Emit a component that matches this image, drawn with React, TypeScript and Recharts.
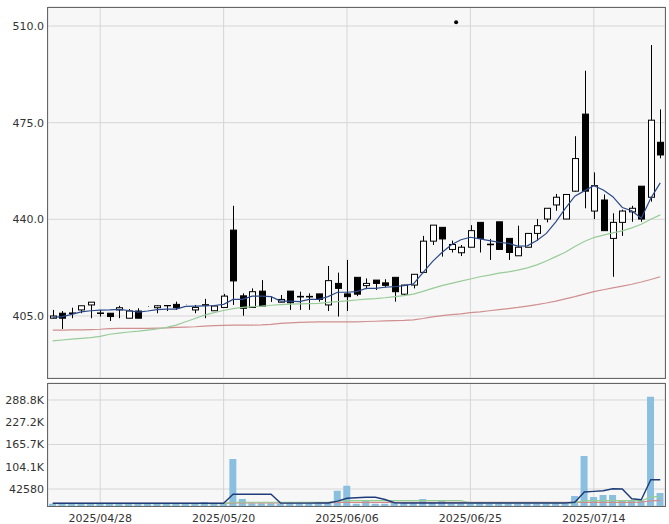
import React from 'react';
import { ComposedChart, Bar, Line, XAxis, YAxis, CartesianGrid, ReferenceDot } from 'recharts';

const dates = [
  '2025/04/21', '2025/04/22', '2025/04/23', '2025/04/24', '2025/04/25', '2025/04/28', '2025/04/30',
  '2025/05/01', '2025/05/02', '2025/05/07', '2025/05/08', '2025/05/09', '2025/05/12', '2025/05/13',
  '2025/05/14', '2025/05/15', '2025/05/16', '2025/05/19', '2025/05/20', '2025/05/21', '2025/05/22',
  '2025/05/23', '2025/05/26', '2025/05/27', '2025/05/28', '2025/05/29', '2025/05/30', '2025/06/02',
  '2025/06/03', '2025/06/04', '2025/06/05', '2025/06/06', '2025/06/09', '2025/06/10', '2025/06/11',
  '2025/06/12', '2025/06/13', '2025/06/16', '2025/06/17', '2025/06/18', '2025/06/19', '2025/06/20',
  '2025/06/23', '2025/06/24', '2025/06/25', '2025/06/26', '2025/06/27', '2025/06/30', '2025/07/01',
  '2025/07/02', '2025/07/03', '2025/07/04', '2025/07/07', '2025/07/08', '2025/07/09', '2025/07/10',
  '2025/07/11', '2025/07/14', '2025/07/15', '2025/07/16', '2025/07/17', '2025/07/18', '2025/07/22',
  '2025/07/23', '2025/07/24',
];

const opens = [
  404.2, 406.0, 405.9, 407.2, 409.0, 405.9, 406.0, 407.2, 404.2, 406.8,
  408.4, 408.0, 408.7, 409.2, 409.0, 407.2, 408.9, 406.9, 408.1, 436.1,
  412.3, 408.1, 414.0, 410.2, 410.0, 414.0, 411.9, 411.9, 413.0, 409.0,
  416.8, 413.0, 419.0, 416.0, 418.0, 417.0, 419.0, 412.9, 416.2, 420.8,
  432.1, 437.1, 429.1, 427.9, 429.9, 438.9, 430.8, 439.1, 433.1, 426.8,
  429.9, 434.9, 440.1, 445.2, 440.1, 450.2, 478.1, 443.0, 447.0, 433.1,
  438.9, 442.7, 452.0, 448.0, 467.9,
];
const closes = [
  405.0, 404.2, 406.1, 408.7, 410.0, 406.1, 404.8, 408.0, 406.8, 404.2,
  408.4, 408.7, 408.8, 408.0, 409.0, 408.1, 409.1, 408.6, 412.2, 417.7,
  407.8, 413.8, 408.6, 410.2, 411.0, 409.8, 412.1, 412.1, 411.0, 417.8,
  415.0, 412.0, 412.9, 416.8, 416.8, 416.1, 413.8, 416.2, 420.1, 432.1,
  437.9, 432.9, 430.9, 429.9, 435.9, 433.1, 431.0, 429.1, 428.0, 429.9,
  434.9, 437.7, 444.0, 448.0, 449.0, 462.0, 450.2, 452.2, 435.9, 438.9,
  443.0, 444.0, 440.1, 475.9, 463.3,
];
const highs = [
  407.2, 406.8, 408.0, 408.7, 410.0, 407.2, 406.0, 408.7, 407.5, 407.8,
  408.5, 408.9, 408.9, 410.2, 409.1, 409.0, 411.2, 408.8, 413.0, 444.9,
  413.2, 415.0, 418.0, 412.0, 412.6, 414.0, 413.8, 413.2, 413.0, 423.1,
  420.7, 425.3, 419.0, 418.6, 418.0, 418.3, 419.0, 416.3, 420.1, 434.0,
  437.9, 437.1, 432.3, 430.7, 437.9, 438.9, 432.9, 439.1, 433.1, 437.7,
  434.9, 440.1, 444.0, 449.2, 449.0, 470.1, 493.8, 457.0, 449.0, 442.2,
  443.5, 444.9, 452.0, 503.1, 479.8,
];
const lows = [
  404.2, 400.3, 404.2, 406.0, 404.2, 404.8, 403.2, 404.2, 404.2, 404.2,
  408.3, 406.0, 406.8, 407.2, 409.0, 406.0, 404.2, 406.9, 408.0, 409.0,
  405.1, 408.0, 408.5, 410.1, 410.0, 407.2, 407.2, 407.2, 410.2, 406.8,
  404.8, 406.8, 412.2, 414.7, 414.4, 415.4, 410.2, 412.5, 415.0, 420.5,
  430.7, 426.5, 428.0, 426.7, 429.9, 428.0, 425.3, 429.0, 425.3, 426.8,
  429.9, 432.3, 438.9, 443.1, 440.1, 450.0, 444.0, 440.1, 435.9, 419.2,
  434.0, 439.1, 439.1, 446.4, 462.1,
];

// moving averages
const ma5 = [
  404.5, 404.8, 405.6, 406.5, 406.9, 407.1, 407.2, 407.4, 407.0, 406.4,
  406.8, 407.3, 407.5, 407.5, 408.5, 408.6, 408.7, 408.8, 409.2, 411.0,
  411.0, 412.2, 412.2, 412.0, 410.4, 410.4, 410.2, 411.0, 411.0, 412.0,
  413.6, 413.6, 413.8, 415.0, 415.0, 415.4, 415.6, 416.0, 416.6, 420.7,
  424.7, 428.0, 430.8, 432.6, 433.5, 432.9, 432.3, 431.7, 431.3, 430.3,
  430.4, 432.3, 434.9, 439.1, 444.0, 448.4, 450.3, 452.2, 450.6, 448.2,
  444.3, 443.1, 440.4, 447.6, 453.2,
];
const ma25 = [
  396.0, 396.3, 396.6, 396.9, 397.2, 397.6, 398.4, 398.8, 399.2, 399.5,
  399.9, 400.3, 400.9, 401.7, 402.9, 404.1, 405.3, 406.2, 407.0, 407.7,
  408.1, 408.4, 408.6, 408.9, 409.1, 409.3, 409.4, 409.5, 409.6, 409.9,
  410.2, 410.5, 410.8, 411.1, 411.3, 411.6, 412.0, 412.4, 412.9, 413.9,
  415.0, 416.0, 416.8, 417.6, 418.4, 419.2, 419.8, 420.5, 421.0, 421.6,
  422.4, 423.5, 424.9, 426.5, 428.1, 430.2, 432.0, 433.4, 434.3, 435.1,
  435.8, 436.9, 438.2, 440.0, 441.6,
];
const ma75 = [
  399.9, 399.9, 400.0, 400.0, 400.1, 400.2, 400.4, 400.5, 400.5, 400.5,
  400.5, 400.6, 400.7, 400.9, 401.0, 401.1, 401.3, 401.5, 401.6, 401.7,
  401.7, 401.7, 401.8, 402.0, 402.3, 402.5, 402.7, 402.8, 402.9, 402.9,
  402.9, 402.9, 402.9, 403.0, 403.1, 403.2, 403.3, 403.4, 403.6, 404.1,
  404.7, 405.1, 405.5, 405.8, 406.2, 406.5, 406.9, 407.3, 407.7, 408.1,
  408.6, 409.1, 409.7, 410.4, 411.2, 412.0, 412.9, 413.8, 414.5, 415.2,
  415.8, 416.5, 417.3, 418.2, 419.2,
];

const volumes = [
  1500, 2500, 2000, 2000, 2500, 2000, 2500, 2000, 2000, 2000,
  1500, 2000, 2500, 2500, 1500, 2500, 6600, 2000, 3500, 125500,
  15000, 3000, 3500, 3000, 2500, 3000, 2500, 2000, 2500, 4000,
  37500, 51300, 2000, 10200, 1500, 2000, 5800, 3000, 3000, 14900,
  5800, 10200, 2000, 2000, 1500, 3000, 2000, 2500, 2000, 2000,
  1500, 2000, 2500, 3000, 2000, 23200, 133900, 20500, 26000, 26000,
  10200, 10200, 10200, 297900, 31500,
];
const volMa5 = [
  3000, 3000, 3000, 3000, 3000, 3000, 3000, 3000, 3000, 3000,
  3000, 3000, 3000, 3000, 3000, 3000, 3000, 3000, 3000, 27900,
  27900, 27900, 27900, 27900, 3500, 3500, 3500, 3500, 3900, 3900,
  9000, 17000, 18500, 19600, 19600, 13500, 4500, 3900, 3900, 3900,
  3900, 3900, 3900, 3900, 3900, 3900, 3900, 3900, 3900, 3900,
  3900, 3900, 3900, 3900, 3900, 6000, 34300, 36000, 37900, 43400,
  42600, 15700, 12900, 68300, 68300,
];
const volMa25 = [
  2200, 2200, 2200, 2200, 2200, 2200, 2200, 2200, 2200, 2200,
  2200, 2200, 2200, 2200, 2200, 2200, 2200, 2200, 2200, 6000,
  6000, 6000, 6000, 6000, 6000, 6000, 6000, 6000, 6000, 6000,
  9400, 10200, 10200, 10200, 10200, 10200, 10200, 10200, 10200, 10200,
  10200, 10200, 10200, 10200, 3900, 3900, 3900, 3900, 3900, 3900,
  3900, 3900, 3900, 3900, 3900, 4800, 10000, 10200, 10200, 10200,
  10200, 10200, 10200, 20000, 22400,
];
const volMa75 = [
  2800, 2800, 2800, 2800, 2800, 2800, 2800, 2800, 2800, 2800,
  2800, 2800, 2800, 2800, 2800, 2800, 2800, 2800, 2800, 4000,
  4000, 4000, 4000, 4000, 4000, 4000, 4000, 4000, 4000, 4000,
  5800, 5800, 5800, 5800, 5800, 5800, 5800, 5800, 5800, 5800,
  5800, 5800, 5800, 5800, 5800, 5800, 5800, 5800, 5800, 5800,
  5800, 5800, 5800, 5800, 5800, 5800, 5800, 5800, 5800, 5800,
  5800, 5800, 6500, 10000, 11000,
];

const dateTicks = ['2025/04/28', '2025/05/20', '2025/06/06', '2025/06/25', '2025/07/14'];
const priceTicks = [405, 440, 475, 510];
const volumeTicks = [42580, 104130, 165680, 227230, 288780];
const markerDate = '2025/06/23';
const markerPrice = 511.4;

const PRICE_DOMAIN: [number, number] = [382.55, 516.88];
const VOL_FLOOR = -4442;
const VOL_DOMAIN: [number, number] = [VOL_FLOOR, 335776];

const rows = dates.map((date, i) => ({
  date,
  open: opens[i],
  close: closes[i],
  high: highs[i],
  low: lows[i],
  ma5: ma5[i],
  ma25: ma25[i],
  ma75: ma75[i],
  volume: volumes[i],
  volMa5: volMa5[i],
  volMa25: volMa25[i],
  volMa75: volMa75[i],
}));

const FONT = '"DejaVu Sans", Verdana, sans-serif';
const tickStyle = { fill: '#333', fontSize: 11, fontFamily: FONT };

const Candle = (props: any) => {
  const { x, y, width, height, payload } = props;
  if (!payload) return null;
  const { open, close, high, low } = payload;
  const top = Math.min(y, y + height);
  const h = Math.abs(height);
  const k = high > low ? h / (high - low) : 0;
  const yOf = (v: number) => top + (high - v) * k;
  const cx = Math.round(x + width / 2) + 0.5;
  const bTop = yOf(Math.max(open, close));
  const bBot = yOf(Math.min(open, close));
  const up = close >= open;
  const bw = 6;
  return (
    <g>
      <line x1={cx} x2={cx} y1={top} y2={top + h} stroke="#000" strokeWidth={1} />
      <rect
        x={cx - bw / 2}
        y={bTop}
        width={bw}
        height={Math.max(bBot - bTop, 0)}
        fill={up ? '#fff' : '#000'}
        stroke="#000"
        strokeWidth={1}
      />
    </g>
  );
};

const Marker = (props: any) => (
  <circle cx={props.cx + 4.7} cy={props.cy} r={2} fill="#000" />
);

// keeps the tick (and its grid line) but draws no label
const NoLabel = () => <g />;

const fmtVol = (v: number) => (v < 100000 ? String(v) : (v / 1000).toFixed(1) + 'K');

const frame = (top: number, height: number): React.CSSProperties => ({
  position: 'absolute',
  left: 47,
  top,
  width: 619,
  height,
  boxSizing: 'border-box',
  border: '1px solid #666',
  pointerEvents: 'none',
});

export default function App() {
  return (
    <div style={{ position: 'absolute', left: 0, top: 0, width: 669, height: 524, background: '#fff' }}>
      <div style={{ position: 'absolute', left: 0, top: 0 }}>
        <ComposedChart width={669} height={380} data={rows} margin={{ top: 7, right: 4, bottom: 1, left: 0 }}>
          <CartesianGrid stroke="#d6d6d6" fill="#f7f7f7" />
          <XAxis
            dataKey="date"
            ticks={dateTicks}
            interval={0}
            tick={<NoLabel />}
            tickLine={false}
            axisLine={false}
            height={1}
          />
          <YAxis
            domain={PRICE_DOMAIN}
            allowDataOverflow
            ticks={priceTicks}
            tickFormatter={(v: number) => v.toFixed(1)}
            tick={tickStyle}
            tickLine={false}
            axisLine={false}
            tickSize={2}
            tickMargin={2}
            width={48}
          />
          <Line dataKey="ma75" stroke="#d09090" strokeWidth={1.2} dot={false} isAnimationActive={false} />
          <Line dataKey="ma25" stroke="#98cc98" strokeWidth={1.2} dot={false} isAnimationActive={false} />
          <Bar dataKey={(d: any) => [d.low, d.high]} shape={<Candle />} isAnimationActive={false} />
          <Line dataKey="ma5" stroke="#2b4a8a" strokeWidth={1.2} dot={false} isAnimationActive={false} />
          <ReferenceDot x={markerDate} y={markerPrice} r={2} shape={<Marker />} />
        </ComposedChart>
      </div>
      <div style={{ position: 'absolute', left: 0, top: 380 }}>
        <ComposedChart width={669} height={144} data={rows} margin={{ top: 3, right: 4, bottom: 0, left: 0 }}>
          <CartesianGrid stroke="#d6d6d6" fill="#f7f7f7" />
          <XAxis
            dataKey="date"
            ticks={dateTicks}
            tick={tickStyle}
            tickLine={false}
            axisLine={false}
            height={18}
            interval={0}
          />
          <YAxis
            domain={VOL_DOMAIN}
            allowDataOverflow
            ticks={volumeTicks}
            tickFormatter={fmtVol}
            tick={tickStyle}
            tickLine={false}
            axisLine={false}
            tickSize={2}
            tickMargin={2}
            width={48}
          />
          <Bar dataKey={(d: any) => [VOL_FLOOR, d.volume]} fill="#8bbfe0" barSize={7} isAnimationActive={false} />
          <Line dataKey="volMa75" stroke="#d58b8b" strokeWidth={1.2} dot={false} isAnimationActive={false} />
          <Line dataKey="volMa25" stroke="#92cf92" strokeWidth={1.2} dot={false} isAnimationActive={false} />
          <Line dataKey="volMa5" stroke="#1f3c7a" strokeWidth={1.4} dot={false} isAnimationActive={false} />
        </ComposedChart>
      </div>
      <div style={frame(7, 372)} />
      <div style={frame(383, 124)} />
    </div>
  );
}
